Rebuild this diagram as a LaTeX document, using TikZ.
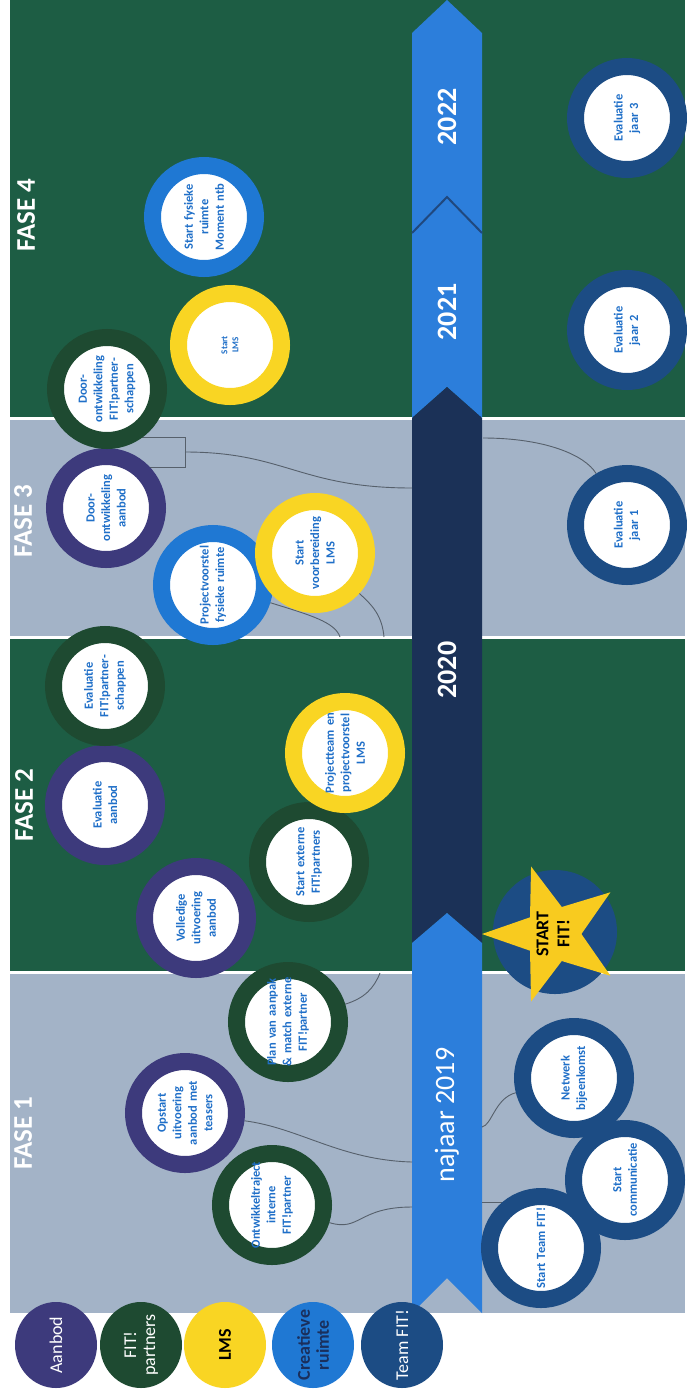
\documentclass[tikz,border=0pt]{standalone}
\usepackage{fontspec}
\setmainfont{Carlito}
\usetikzlibrary{shapes.geometric}
\usepackage{xcolor}

\definecolor{fasegreen}{HTML}{1D5D44}
\definecolor{fasegray}{HTML}{A3B3C7}
\definecolor{tlblue}{HTML}{2C7EDB}
\definecolor{tlnavy}{HTML}{1B3157}
\definecolor{aanbodc}{HTML}{3D3A7C}
\definecolor{partnerc}{HTML}{1E4A31}
\definecolor{lmsc}{HTML}{F9D523}
\definecolor{ruimtec}{HTML}{1F78D3}
\definecolor{teamc}{HTML}{1C4C84}
\definecolor{ringtext}{HTML}{1F6FC8}
\definecolor{linec}{HTML}{56606B}
\definecolor{starc}{HTML}{F8CB1F}
\definecolor{ruimtetext}{HTML}{1A2F5C}

\pgfdeclarelayer{back}
\pgfdeclarelayer{lines}
\pgfsetlayers{back,lines,main}

\begin{document}
\begin{tikzpicture}[
    x=1pt, y=-1pt,        % pixel grid of the page
    ring/.style = {
        circle, draw = #1, line width = 17pt, fill = white,
        minimum size = 103pt, inner sep = -8pt,
        text width = 92pt, align = center, rotate = 90,
        text = ringtext, font = \fontsize{12.5}{15.5}\selectfont\bfseries
    },
    legendbox/.style = {
        ellipse, fill = #1, minimum width = 86pt, minimum height = 82pt,
        inner sep = -14pt, align = center, rotate = 90,
        font = \fontsize{18}{19}\selectfont
    },
    startstar/.style = {
        star, star points = 5, star point ratio = 2.5,
        fill = starc, minimum size = 142pt, inner sep = -6pt,
        align = center, rotate = 90,
        font = \fontsize{18}{21}\selectfont\bfseries
    },
    fase/.style = {rotate = 90, text = white, font = \fontsize{27}{30}\selectfont\bfseries},
    year/.style = {rotate = 90, text = white, font = \fontsize{28}{30}\selectfont\bfseries},
    conn/.style = {draw = linec, line width = 0.9pt}
]

% --- Page, phase panels and timeline ---
\begin{pgfonlayer}{back}
\fill[white] (0,0) rectangle (685,1393);
\fill[fasegreen] (10,0)   rectangle (685,418);
\fill[fasegray]  (10,418) rectangle (685,637);
\fill[fasegreen] (10,637) rectangle (685,972);
\fill[fasegray]  (10,972) rectangle (685,1313);
\draw[white, line width=3pt] (10,418) -- (685,418);
\draw[white, line width=3pt] (10,637) -- (685,637);
\draw[white, line width=3pt] (10,972) -- (685,972);

\fill[tlblue] (447,0) -- (482,33) -- (482,233) -- (447,197) -- (412,233) -- (412,33) -- cycle;
\fill[tlblue] (447,197) -- (482,233) -- (482,418) -- (447,387) -- (412,418) -- (412,233) -- cycle;
\fill[tlnavy] (447,387) -- (482,418) -- (482,943) -- (447,913) -- (412,943) -- (412,418) -- cycle;
\fill[tlblue] (447,913) -- (482,943) -- (482,1313) -- (447,1278) -- (412,1313) -- (412,943) -- cycle;
\draw[tlnavy!70!tlblue, line width=2pt] (412,233) -- (447,197) -- (482,233);
\end{pgfonlayer}

% --- Years and phases ---
\node[year] (y2022) at (447,117)  {2022};
\node[year] (y2021) at (447,312)  {2021};
\node[year] (y2020) at (447,670)  {2020};
\node[year, font=\fontsize{28}{30}\selectfont] (y2019) at (447,1115) {najaar 2019};

\node[fase] (fase4) at (26,215)  {FASE 4};
\node[fase] (fase3) at (23,521)  {FASE 3};
\node[fase] (fase2) at (24,805)  {FASE 2};
\node[fase] (fase1) at (23,1133) {FASE 1};

% --- FASE 4 ---
\node[ring=ruimtec] (fysiek)   at (204,217) {Start fysieke\\ruimte\\Moment ntb};
\node[ring=lmsc, font=\fontsize{9}{11}\selectfont\bfseries] (lmsstart) at (230,345) {Start\\LMS};
\node[ring=teamc]   (evaljaar3) at (627,118) {Evaluatie\\jaar 3};
\node[ring=teamc]   (evaljaar2) at (627,330) {Evaluatie\\jaar 2};

% --- FASE 3 ---
\node[ring=aanbodc]  (dooraanbod)  at (106,508) {Door-\\ontwikkeling\\aanbod};
\node[ring=partnerc] (doorpartner) at (107,389) {Door-\\ontwikkeling\\FIT!partner-\\schappen};
\node[ring=ruimtec]  (projruimte)  at (213,585) {Projectvoorstel\\fysieke ruimte};
\node[ring=lmsc]     (voorblms)    at (315,553) {Start\\voorbereiding\\LMS};
\node[ring=teamc]    (evaljaar1)   at (627,525) {Evaluatie\\jaar 1};

% --- FASE 2 ---
\node[ring=aanbodc]  (evalaanbod)  at (105,805) {Evaluatie\\aanbod};
\node[ring=partnerc] (evalpartner) at (105,686) {Evaluatie\\FIT!partner-\\schappen};
\node[ring=partnerc] (startextern) at (309,862) {Start externe\\FIT!partners};
\node[ring=lmsc]     (projlms)     at (345,753) {Projectteam en\\projectvoorstel\\LMS};
\node[ring=aanbodc]  (volledig)    at (196,918) {Volledige\\uitvoering\\aanbod};

\node[circle, fill=teamc, minimum size=124pt] (startbg) at (555,932) {};
\node[startstar] (startfit) at (553,934) {START\\FIT!};

% --- FASE 1 ---
\node[ring=partnerc] (planaanpak)   at (288,1022) {Plan van aanpak\\\& match externe\\FIT!partner};
\node[ring=aanbodc]  (opstart)      at (185,1113) {Opstart\\uitvoering\\aanbod met\\teasers};
\node[ring=partnerc] (ontwikkel)    at (272,1205) {Ontwikkeltraject\\interne\\FIT!partner};
\node[ring=teamc]    (teamstart)    at (541,1248) {Start Team FIT!};
\node[ring=teamc]    (netwerk)      at (574,1078) {Netwerk\\bijeenkomst};
\node[ring=teamc]    (communicatie) at (625,1180) {Start\\communicatie};

% --- Legend ---
\node[legendbox=aanbodc, text=white]  (lgaanbod)  at (56,1345)  {Aanbod};
\node[legendbox=partnerc, text=white] (lgpartner) at (141,1345) {FIT!\\partners};
\node[legendbox=lmsc, font=\fontsize{18}{19}\selectfont\bfseries] (lglms) at (225,1345) {LMS};
\node[legendbox=ruimtec, text=ruimtetext, font=\fontsize{18}{19}\selectfont\bfseries] (lgruimte) at (313,1345) {Creatieve\\ruimte};
\node[legendbox=teamc, text=white]    (lgteam)    at (402,1345) {Team FIT!};

% --- Leader lines to the timeline ---
\coordinate (t1)  at (412,1207);
\coordinate (t2)  at (412,1162);
\coordinate (p3)  at (380,973);
\coordinate (t4)  at (482,1127);
\coordinate (t5)  at (482,1202);
\coordinate (bra) at (185,437);
\coordinate (brb) at (185,467);
\coordinate (br)  at (185,452);
\coordinate (t6)  at (412,488);
\coordinate (t7)  at (483,438);
\coordinate (p8)  at (340,637);
\coordinate (p9)  at (384,637);

\begin{pgfonlayer}{lines}
\draw[conn] (ontwikkel) .. controls (360,1232) and (358,1207) .. (t1);
\draw[conn] (opstart) .. controls (300,1128) and (340,1160) .. (t2);
\draw[conn] (planaanpak) .. controls (365,998) and (374,988) .. (p3);
\draw[conn] (netwerk) .. controls (495,1098) and (492,1125) .. (t4);
\draw[conn] (t5) -- (t5 -| teamstart);
\draw[conn] (bra -| doorpartner) -- (bra) -- (brb) -- (brb -| dooraanbod);
\draw[conn] (br) .. controls (285,452) and (300,488) .. (t6);
\draw[conn] (evaljaar1) .. controls (585,455) and (545,438) .. (t7);
\draw[conn] (projruimte) .. controls (310,615) and (335,622) .. (p8);
\draw[conn] (voorblms) .. controls (372,605) and (382,615) .. (p9);
\end{pgfonlayer}

\end{tikzpicture}
\end{document}
